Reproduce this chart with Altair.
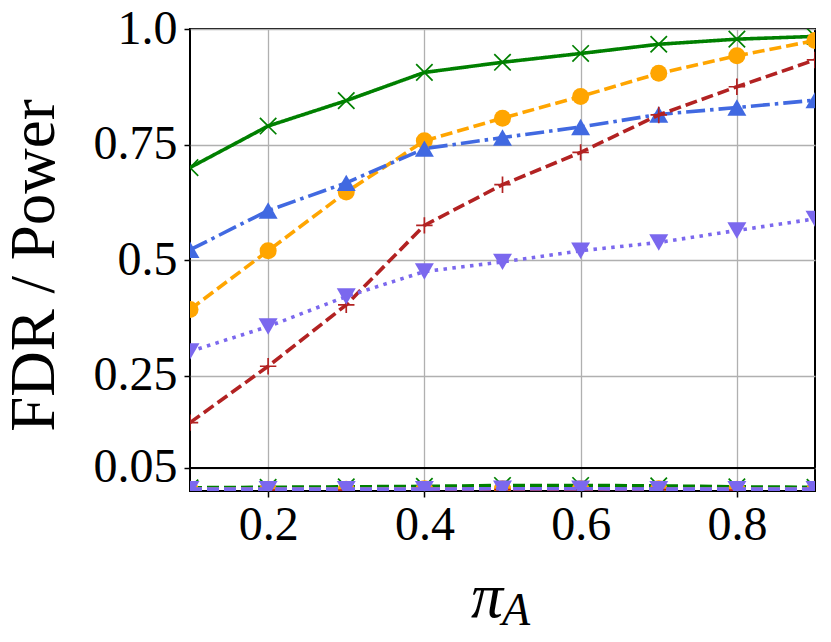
import altair as alt
import pandas as pd

x_vals = [0.1, 0.2, 0.3, 0.4, 0.5, 0.6, 0.7, 0.8, 0.9]

methods = ["M1", "M2", "M3", "M4", "M5"]

power = {
    "M1": [0.70, 0.79, 0.845, 0.906, 0.928, 0.947, 0.967, 0.978, 0.984],
    "M2": [0.393, 0.52, 0.647, 0.758, 0.807, 0.854, 0.904, 0.942, 0.975],
    "M3": [0.522, 0.607, 0.667, 0.741, 0.765, 0.788, 0.815, 0.830, 0.846],
    "M4": [0.148, 0.27, 0.403, 0.575, 0.663, 0.733, 0.814, 0.875, 0.933],
    "M5": [0.302, 0.356, 0.421, 0.475, 0.496, 0.52, 0.538, 0.564, 0.589],
}

fdr = {
    "M1": [0.007, 0.008, 0.009, 0.010, 0.012, 0.012, 0.011, 0.009, 0.008],
    "M2": [0.004, 0.004, 0.004, 0.005, 0.005, 0.005, 0.005, 0.004, 0.004],
    "M3": [0.003, 0.003, 0.003, 0.003, 0.004, 0.004, 0.004, 0.003, 0.003],
    "M4": [0.002, 0.002, 0.002, 0.003, 0.003, 0.003, 0.003, 0.002, 0.002],
    "M5": [0.004, 0.004, 0.004, 0.004, 0.005, 0.005, 0.004, 0.004, 0.004],
}

level = [0.05]

y_ticks = [0.05, 0.25, 0.5, 0.75, 1.0]
x_ticks = [0.2, 0.4, 0.6, 0.8]

title_main = ["π"]
title_sub = ["A"]

colors = {"M1": "#008000", "M2": "#FFA500", "M3": "#4169E1", "M4": "#B22222", "M5": "#7B68EE"}
dashes = {"M1": [1, 0], "M2": [12, 5], "M3": [19, 5, 3.5, 5], "M4": [12, 5], "M5": [3.5, 5.4]}
X_PATH = "M-1,-1L1,1M-1,1L1,-1"
PLUS_PATH = "M-1,0L1,0M0,-1L0,1"
shapes = {"M1": X_PATH, "M2": "circle", "M3": "triangle-up", "M4": PLUS_PATH, "M5": "triangle-down"}
filled = {"M1": False, "M2": True, "M3": True, "M4": False, "M5": True}
sizes = {"M1": 270, "M2": 290, "M3": 360, "M4": 270, "M5": 360}

FONT = "Liberation Serif"

xscale = alt.Scale(domain=[0.1, 0.9], nice=False, zero=False)
yscale = alt.Scale(domain=[0.0, 1.0], nice=False)

xaxis = alt.Axis(values=x_ticks, title=None, labelFont=FONT, labelFontSize=48,
                 labelColor="black", tickColor="black", tickWidth=1.5, tickSize=6,
                 labelPadding=4, grid=True, gridColor="#b0b0b0", gridWidth=1.3,
                 domain=False, labelFlush=False, labelOverlap=False)
yaxis = alt.Axis(values=y_ticks, title="FDR / Power", titleFont=FONT, titleFontSize=63,
                 titleFontWeight="normal", titleColor="black", titleX=-137, titleY=236,
                 titleAngle=-90, titleBaseline="alphabetic", titleAlign="center",
                 labelExpr="datum.value == 1 ? '1.0' : toString(datum.value)",
                 labelFont=FONT, labelFontSize=48, labelColor="black",
                 tickColor="black", tickWidth=1.5, tickSize=6, labelPadding=7,
                 grid=True, gridColor="#b0b0b0", gridWidth=1.3, domain=False,
                 labelFlush=False, labelOverlap=False)

X = lambda: alt.X("x:Q", scale=xscale, axis=xaxis)
Y = lambda: alt.Y("y:Q", scale=yscale, axis=yaxis)

layers = []
hline = alt.Chart(pd.DataFrame({"y": level})).mark_rule(color="black", strokeWidth=2).encode(y=Y())
layers.append(hline)

for metric_name, table in [("fdr", fdr), ("power", power)]:
    for m in methods:
        df = pd.DataFrame({"x": x_vals, "y": table[m]})
        fdr_line = metric_name == "fdr"
        line = alt.Chart(df).mark_line(
            color=colors[m], strokeWidth=3.6,
            strokeDash=dashes[m] if not fdr_line else [12, 5], clip=True
        ).encode(x=X(), y=Y())
        layers.append(line)
        pt = alt.Chart(df).mark_point(
            shape=shapes[m], filled=filled[m], size=sizes[m], color=colors[m],
            opacity=1, strokeWidth=1.7, clip=True
        ).encode(x=X(), y=Y())
        layers.append(pt)

t1 = alt.Chart(pd.DataFrame({"t": title_main})).mark_text(
    font=FONT, fontSize=64, fontStyle="italic", align="right", baseline="alphabetic", color="black"
).encode(text="t:N", x=alt.value(313), y=alt.value(588))
t2 = alt.Chart(pd.DataFrame({"t": title_sub})).mark_text(
    font=FONT, fontSize=46, fontStyle="italic", align="left", baseline="alphabetic", color="black"
).encode(text="t:N", x=alt.value(312), y=alt.value(596))
layers += [t1, t2]

chart = alt.layer(*layers).properties(
    width=625, height=462,
    background="white",
    autosize=alt.AutoSizeParams(type="none"),
    padding={"left": 182, "top": 21, "right": 8, "bottom": 143},
).configure_view(stroke="black", strokeWidth=2)

chart.save("out.html", embed_options={"renderer": "svg", "actions": False})
